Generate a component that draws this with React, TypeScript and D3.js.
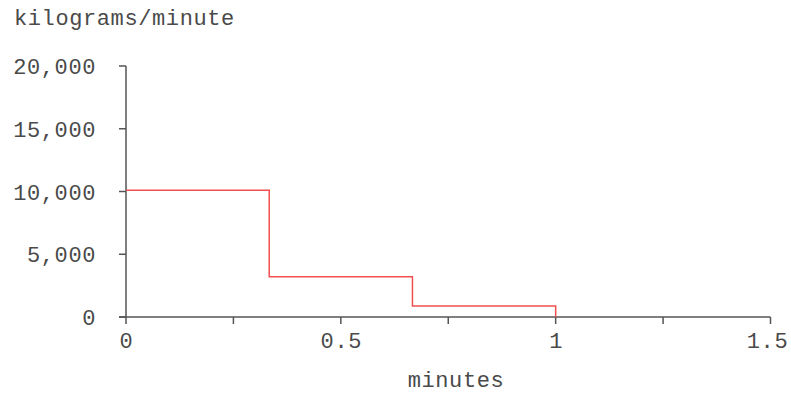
import React from "react";
import * as d3 from "d3";

const stepStarts = [0, 1 / 3, 2 / 3, 1];
const stepValues = [10100, 3200, 880, 0];
const xTicks = [0, 0.25, 0.5, 0.75, 1, 1.25, 1.5];
const xLabelTicks = [0, 0.5, 1, 1.5];
const yTicks = [0, 5000, 10000, 15000, 20000];

const W = 791;
const H = 394;
const FONT = "'Liberation Mono', 'Courier New', monospace";
const FS = 22;
const LS = 0.6;

export default function App() {
  const x = d3.scaleLinear().domain([0, 1.5]).range([126, 770.5]);
  const y = d3.scaleLinear().domain([0, 20000]).range([317, 66]);
  const pts: [number, number][] = stepStarts.map((s, i) => [s, stepValues[i]]);
  const line = d3
    .line<[number, number]>()
    .x((d) => x(d[0]))
    .y((d) => y(d[1]))
    .curve(d3.curveStepAfter);
  const fmt = d3.format(",");
  const axisColor = "#555";
  const textColor = "#4a4a4a";
  return (
    <svg
      width={W}
      height={H}
      style={{ position: "absolute", left: 0, top: 0, background: "#fff" }}
      fontFamily={FONT}
    >
      <text x={14} y={25} fontSize={FS} letterSpacing={LS} fill={textColor}>
        kilograms/minute
      </text>
      {/* y axis */}
      <line x1={x(0)} x2={x(0)} y1={y(20000)} y2={y(0)} stroke={axisColor} strokeWidth={1.5} />
      {yTicks.map((t) => (
        <g key={t}>
          <line x1={x(0) - 7} x2={x(0)} y1={y(t)} y2={y(t)} stroke={axisColor} strokeWidth={1.5} />
          <text
            x={96}
            y={y(t) + 8}
            textAnchor="end"
            fontSize={FS}
            letterSpacing={LS}
            fill={textColor}
          >
            {fmt(t)}
          </text>
        </g>
      ))}
      {/* x axis */}
      <line x1={x(0) - 7} x2={x(1.5)} y1={y(0)} y2={y(0)} stroke={axisColor} strokeWidth={1.5} />
      {xTicks.map((t) => (
        <line key={t} x1={x(t)} x2={x(t)} y1={y(0)} y2={y(0) + 7} stroke={axisColor} strokeWidth={1.5} />
      ))}
      {xLabelTicks.map((t) => (
        <text
          key={t}
          x={t === 1.5 ? x(t) - 3 : x(t) + 0.5}
          y={y(0) + 31}
          textAnchor="middle"
          fontSize={FS}
          letterSpacing={LS}
          fill={textColor}
        >
          {String(t)}
        </text>
      ))}
      <text x={456} y={387} textAnchor="middle" fontSize={FS} letterSpacing={LS} fill={textColor}>
        minutes
      </text>
      <path d={line(pts) || ""} fill="none" stroke="#f05050" strokeWidth={1.5} />
    </svg>
  );
}
